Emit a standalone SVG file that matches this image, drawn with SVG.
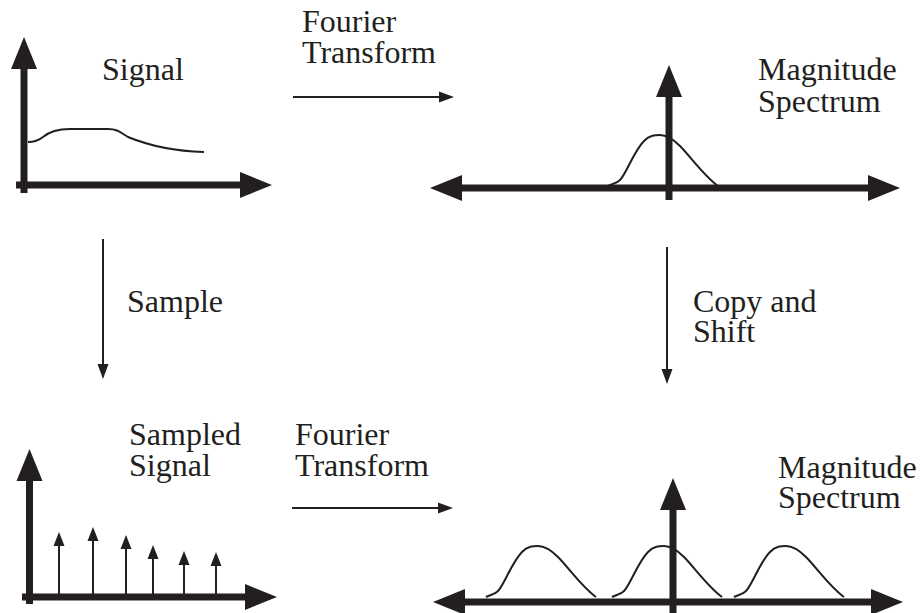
<svg xmlns="http://www.w3.org/2000/svg" xmlns:xlink="http://www.w3.org/1999/xlink" width="924" height="613" viewBox="0 0 924 613">
<style>
  .lbl { font-family: "Liberation Serif", "Times New Roman", serif; font-size: 32px; fill: #231f20; }
  .axis { stroke: #231f20; stroke-width: 7; fill: none; }
  .curve { stroke: #231f20; stroke-width: 2; fill: none; stroke-linejoin: round; }
  .stem { stroke: #231f20; stroke-width: 2; fill: none; }
  .conn { stroke: #231f20; stroke-width: 2; fill: none; }
</style>
<defs>
  <marker id="axhead" markerUnits="userSpaceOnUse" markerWidth="32" markerHeight="26" refX="0" refY="13" orient="auto-start-reverse" overflow="visible">
    <path d="M0,0 L32,13 L0,26 Z" fill="#231f20"/>
  </marker>
  <marker id="stemhead" markerUnits="userSpaceOnUse" markerWidth="14" markerHeight="11" refX="0" refY="5.5" orient="auto" overflow="visible">
    <path d="M0,0 L14,5.5 L0,11 Z" fill="#231f20"/>
  </marker>
  <marker id="connhead" markerUnits="userSpaceOnUse" markerWidth="15" markerHeight="11" refX="0" refY="5.5" orient="auto" overflow="visible">
    <path d="M0,0 L15,5.5 L0,11 Z" fill="#231f20"/>
  </marker>
  <path id="bump" d="M0,0 C4,-2 9,-3 12,-6 C18,-12 26,-35 36,-45 C42,-51 47,-51 52,-51 C60,-51 66,-46 72,-40 C82,-30 96,-10 110,0"/>
</defs>

<g id="signal">
  <line class="axis" x1="24" y1="193" x2="24" y2="69" marker-end="url(#axhead)"/>
  <line class="axis" x1="16" y1="185" x2="240" y2="185" marker-end="url(#axhead)"/>
  <path class="curve" d="M28,142 C33,142 38,141 43,137 C50,131 58,129 70,129 L108,129 C118,129 121,133 128,137 C145,144 170,151 204,152"/>
  <text class="lbl" x="102" y="80">Signal</text>
</g>

<g id="spectrum-top">
  <line class="axis" x1="462" y1="188" x2="868" y2="188" marker-start="url(#axhead)" marker-end="url(#axhead)"/>
  <line class="axis" x1="669" y1="200" x2="669" y2="97" marker-end="url(#axhead)"/>
  <use xlink:href="#bump" href="#bump" class="curve" transform="translate(608,186)"/>
  <text class="lbl" x="758" y="80">Magnitude</text>
  <text class="lbl" x="758" y="112">Spectrum</text>
</g>

<g id="sampled">
  <line class="axis" x1="29.5" y1="604" x2="29.5" y2="481" marker-end="url(#axhead)"/>
  <line class="axis" x1="22" y1="597" x2="245" y2="597" marker-end="url(#axhead)"/>
  <line class="stem" x1="59" y1="594" x2="59" y2="546" marker-end="url(#stemhead)"/>
  <line class="stem" x1="93" y1="594" x2="93" y2="541" marker-end="url(#stemhead)"/>
  <line class="stem" x1="126" y1="594" x2="126" y2="549" marker-end="url(#stemhead)"/>
  <line class="stem" x1="153" y1="594" x2="153" y2="559" marker-end="url(#stemhead)"/>
  <line class="stem" x1="184" y1="594" x2="184" y2="565" marker-end="url(#stemhead)"/>
  <line class="stem" x1="216" y1="594" x2="216" y2="566" marker-end="url(#stemhead)"/>
  <text class="lbl" x="129" y="445">Sampled</text>
  <text class="lbl" x="129" y="476">Signal</text>
</g>

<g id="spectrum-bottom">
  <line class="axis" x1="465" y1="602" x2="871" y2="602" marker-start="url(#axhead)" marker-end="url(#axhead)"/>
  <line class="axis" x1="673" y1="613" x2="673" y2="510" marker-end="url(#axhead)"/>
  <use xlink:href="#bump" href="#bump" class="curve" transform="translate(486,597)"/>
  <use xlink:href="#bump" href="#bump" class="curve" transform="translate(612,597)"/>
  <use xlink:href="#bump" href="#bump" class="curve" transform="translate(734,597)"/>
  <text class="lbl" x="778" y="478">Magnitude</text>
  <text class="lbl" x="778" y="508">Spectrum</text>
</g>

<g id="connectors">
  <line class="conn" x1="293" y1="97" x2="439" y2="97" marker-end="url(#connhead)"/>
  <text class="lbl" x="302" y="32">Fourier</text>
  <text class="lbl" x="302" y="63">Transform</text>
  <line class="conn" x1="292" y1="508" x2="438" y2="508" marker-end="url(#connhead)"/>
  <text class="lbl" x="295" y="445">Fourier</text>
  <text class="lbl" x="295" y="476">Transform</text>
  <line class="conn" x1="103" y1="239" x2="103" y2="364" marker-end="url(#connhead)"/>
  <text class="lbl" x="127" y="312">Sample</text>
  <line class="conn" x1="667" y1="247" x2="667" y2="369" marker-end="url(#connhead)"/>
  <text class="lbl" x="693" y="312">Copy and</text>
  <text class="lbl" x="693" y="342">Shift</text>
</g>
</svg>
